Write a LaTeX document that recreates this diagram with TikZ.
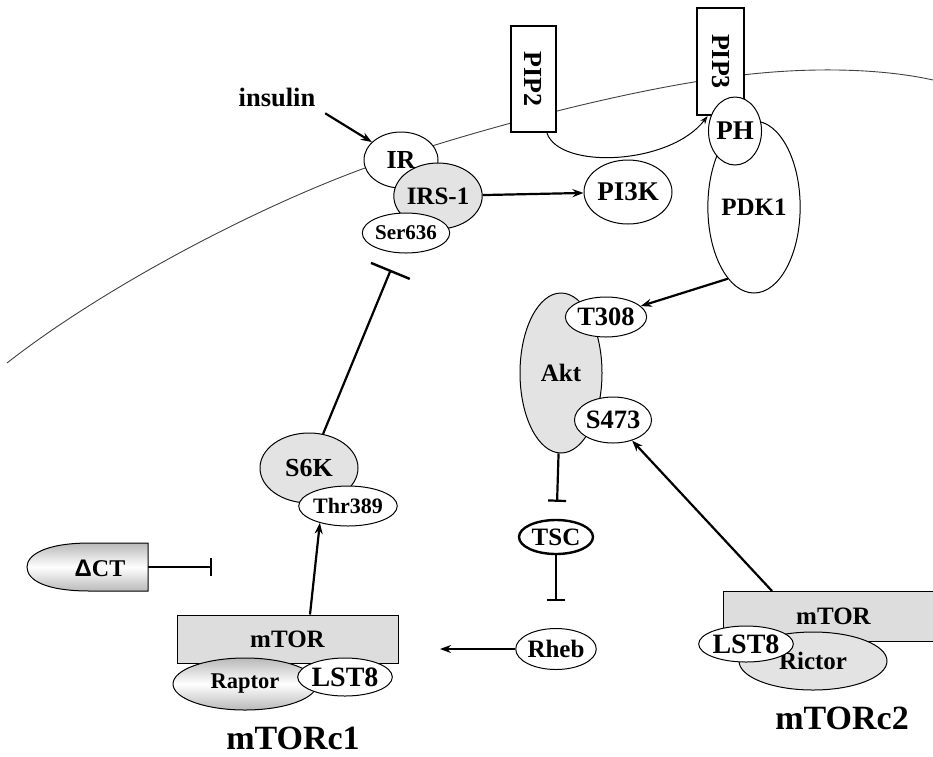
\documentclass[tikz,border=0pt]{standalone}
\usepackage{fontspec}
\setmainfont{Liberation Serif}
\newfontfamily\deltafont{Liberation Sans}
\usetikzlibrary{shapes.geometric,arrows.meta}
\newcommand{\fsz}[1]{\fontsize{#1}{#1}\selectfont\bfseries}
\tikzset{
  ell/.style={ellipse, draw, line width=1pt, inner sep=0pt, fill=white, font=\fsz{25}},
  gell/.style={ell, fill=gray!22},
  pipbox/.style={rectangle, draw, line width=2.4pt, fill=white, inner sep=0pt, font=\fsz{26}},
  mbox/.style={rectangle, draw, line width=1pt, fill=gray!27, inner sep=0pt, font=\fsz{25}},
  shadeell/.style={ell, top color=gray!55, bottom color=gray!55, middle color=white},
  lbl/.style={inner sep=2pt, font=\fsz{25}},
  act/.style={line width=2.2pt, -{Stealth[length=11pt,width=8pt]}},
  inh/.style={line width=2.2pt, -{Bar[width=18pt,line width=2.2pt]}},
  thinact/.style={line width=1pt, -{Stealth[length=8pt,width=6pt,open]}},
}
\begin{document}
\begin{tikzpicture}[x=1pt,y=-1pt]
\useasboundingbox (0,0) rectangle (933,756);
% membrane
\draw[line width=0.9pt, black!75] (7,363) .. controls (100,290) and (250,210) .. (365,168)
  .. controls (450,138) and (600,95) .. (720,78) .. controls (800,66) and (880,68) .. (933,80);
% PIP boxes
\node[pipbox, minimum width=45pt, minimum height=106pt] (pip2) at (533.5,79) {\rotatebox{-90}{PIP2}};
\node[pipbox, minimum width=47pt, minimum height=107pt] (pip3) at (720.5,61.5) {\rotatebox{-90}{PIP3}};
\draw[thinact] ([xshift=13.5pt]pip2.south) .. controls (560,170) and (670,165) .. ([xshift=-13pt]pip3.south);
% receptor
\node[lbl, font=\fsz{26.5}] (insulin) at (277,97) {insulin};
\node[ell, minimum width=74pt, minimum height=56pt, font=\fsz{26}] (ir) at (401,160) {IR};
\node[gell, minimum width=82pt, minimum height=66pt] (irs) at (438,196) {IRS-1};
\node[ell, minimum width=82pt, minimum height=40pt, font=\fsz{21}] (ser) at (406,233) {Ser636};
\node[ell, minimum width=88pt, minimum height=64pt, font=\fsz{27}] (pi3k) at (628,192) {PI3K};
\node[ell, minimum width=82pt, minimum height=172pt] (pdk1) at (754,207) {\raisebox{-5pt}{PDK1}};
\node[ell, minimum width=44pt, minimum height=68pt, font=\fsz{27}] (ph) at (735,131) {PH};
% Akt
\node[gell, minimum width=82pt, minimum height=160pt] (akt) at (561,373) {Akt};
\node[ell, minimum width=74pt, minimum height=40pt, font=\fsz{26.5}] (t308) at (606,317) {T308};
\node[ell, minimum width=74pt, minimum height=46pt, font=\fsz{26.5}] (s473) at (613,420) {S473};
\node[ell, minimum width=74pt, minimum height=34pt, line width=2.4pt] (tsc) at (556,537) {TSC};
\node[ell, minimum width=72pt, minimum height=41pt] (rheb) at (556,649) {Rheb};
% mTORc1
\node[mbox, minimum width=221pt, minimum height=48pt] (mtor1) at (287.5,639) {mTOR};
\node[shadeell, minimum width=144pt, minimum height=52pt, font=\fsz{22.5}] (raptor) at (245,684) {Raptor};
\node[ell, minimum width=80pt, minimum height=38pt, font=\fsz{28}] (lsta) at (345,677) {LST8};
\node[lbl, font=\fsz{34}] (c1lbl) at (293,738) {mTORc1};
% S6K
\node[gell, minimum width=98pt, minimum height=70pt, font=\fsz{26}] (s6k) at (309,468) {S6K};
\node[ell, minimum width=82pt, minimum height=40pt, font=\fsz{22}] (thr) at (348,506) {Thr389};
% Delta CT
\path[draw, line width=1pt, top color=gray!55, bottom color=gray!55, middle color=white]
  (148,543) -- (90,543) .. controls (45,543) and (27,555) .. (27,567) .. controls (27,580) and (45,591) .. (90,591) -- (148,591) -- cycle;
\node[lbl, font=\fsz{24}] (dct) at (100,568) {{\deltafont Δ}CT};
\coordinate (dctR) at (148,567);
\coordinate (dctbar) at (212,567);
% mTORc2
\node[mbox, draw=none, minimum width=210pt, minimum height=49pt, anchor=north west] (mtor2) at (723,591) {\hspace*{10pt}mTOR};
\draw[line width=1pt] (mtor2.north east) -- (mtor2.north west) -- (mtor2.south west) -- (mtor2.south east);
\node[gell, minimum width=148pt, minimum height=58pt] (rictor) at (813,661) {Rictor};
\node[ell, minimum width=78pt, minimum height=36pt, font=\fsz{28}] (lstb) at (746,644) {LST8};
\node[lbl, font=\fsz{34}] (c2lbl) at (842,718) {mTORc2};
\coordinate (c1in) at (440,649);
% connectors
\draw[act, shorten <=9pt] (insulin.south east) -- (ir);
\draw[act] (irs) -- (pi3k);
\draw[act] (pdk1.250) -- (t308);
\draw[inh, shorten >=17pt] (akt) -- (tsc);
\draw[inh, shorten >=27pt] (tsc) -- (rheb);
\draw[act] (rheb) -- (c1in);
\draw[act] ([xshift=22.5pt]mtor1.north) -- (thr.211);
\draw[inh, -{Bar[width=42pt,line width=2.4pt]}, shorten >=18pt] (s6k) -- (ser);
\draw[act] ([xshift=49pt]mtor2.north west) -- (s473);
\draw[inh] (dctR) -- (dctbar);
\end{tikzpicture}
\end{document}
